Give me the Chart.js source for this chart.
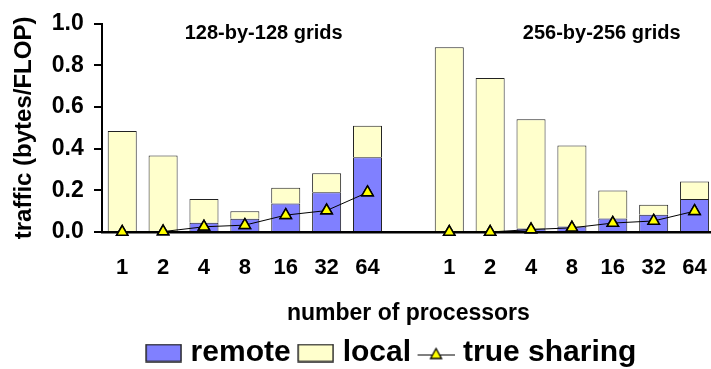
<!DOCTYPE html>
<html>
<head>
<meta charset="utf-8">
<script src="https://cdn.jsdelivr.net/npm/chart.js@4/dist/chart.umd.min.js"></script>
<style>
  html, body { margin: 0; padding: 0; background: #fff; }
  #wrap { width: 711px; height: 369px; position: relative; }
</style>
</head>
<body>
<div id="wrap"><canvas id="myChart"></canvas></div>
<script>
// processors per bar, the empty slot separates the two grid sizes
const processors = ['1', '2', '4', '8', '16', '32', '64', '', '1', '2', '4', '8', '16', '32', '64'];
const groupLabels = ['128-by-128 grids', '256-by-256 grids'];
// traffic in bytes/FLOP
const remote = [0, 0.003, 0.045, 0.064, 0.137, 0.191, 0.359, null, 0, 0, 0.017, 0.027, 0.065, 0.083, 0.158];
const local = [0.485, 0.365, 0.114, 0.036, 0.076, 0.091, 0.151, null, 0.887, 0.74, 0.525, 0.388, 0.134, 0.048, 0.084];
const trueSharing = [0, 0.002, 0.025, 0.033, 0.081, 0.103, 0.19, null, 0, 0, 0.012, 0.02, 0.043, 0.053, 0.1];
const yTicks = [0, 0.2, 0.4, 0.6, 0.8, 1.0];

const blue = '#8080ff';
const yellow = '#ffffcc';
const edge = '#222';

//legend keys: 48px wide pictures, the key itself sits in the right 36px
function boxKey(fill) {
    const c = document.createElement('canvas');
    c.width = 48; c.height = 19;
    const g = c.getContext('2d');
    g.fillStyle = fill;
    g.fillRect(12, 1, 35, 17);
    g.strokeStyle = edge;
    g.lineWidth = 1.5;
    g.strokeRect(12, 1, 35, 17);
    return c;
}
function lineKey() {
    const c = document.createElement('canvas');
    c.width = 48; c.height = 19;
    const g = c.getContext('2d');
    g.strokeStyle = '#000';
    g.lineWidth = 1;
    g.beginPath(); g.moveTo(11, 11.5); g.lineTo(48, 11.5); g.stroke();
    g.beginPath(); g.moveTo(29.5, 5); g.lineTo(35, 15); g.lineTo(24, 15); g.closePath();
    g.fillStyle = '#ffff00'; g.fill();
    g.lineWidth = 1.3; g.stroke();
    return c;
}

//axis lines, tick marks, group captions, small layout shifts
const chartDecor = {
    id: 'chartDecor',
    afterLayout(chart) {
        chart.legend.left += 28;
        chart.legend.right += 28;
        chart.legend.top += 9;
        chart.legend.bottom += 9;
        //the category axis runs a little past the right edge, as in the original
        const x = chart.scales.x;
        x.right = chart.width + 4;
        x.width = x.right - x.left;
        x.configure();
    },
    afterDraw(chart) {
        const x = chart.scales.x, y = chart.scales.y;
        const ctx = chart.ctx;
        const left = Math.round(chart.chartArea.left);
        const y0 = Math.round(y.getPixelForValue(0));
        const y1 = Math.round(y.getPixelForValue(1));
        ctx.save();
        ctx.fillStyle = '#000';
        //value axis with its tick marks
        ctx.fillRect(left - 1, y1 - 1, 2, y0 - y1 + 2);
        yTicks.forEach(v => {
            const py = Math.round(y.getPixelForValue(v));
            ctx.fillRect(left - 8, py - 1, 8, 2);
        });
        //category axis
        ctx.beginPath();
        ctx.strokeStyle = '#000';
        ctx.lineWidth = 2.5;
        ctx.moveTo(left - 1, y0 + 0.25);
        ctx.lineTo(x.right, y0 + 0.25);
        ctx.stroke();
        ctx.restore();
        //keep the true sharing markers on top of the axis
        chart.getDatasetMeta(0).data.forEach(pt => { if (!pt.skip) pt.draw(ctx, chart.chartArea); });

        ctx.save();
        ctx.font = 'bold 20px "Liberation Sans", Arial, sans-serif';
        ctx.fillStyle = '#000';
        ctx.textAlign = 'center';
        ctx.textBaseline = 'middle';
        ctx.fillText(groupLabels[0], x.getPixelForValue(3.46), y.getPixelForValue(0.955));
        ctx.fillText(groupLabels[1], x.getPixelForValue(11.73), y.getPixelForValue(0.955));
        ctx.restore();
    }
};

const chart = document.getElementById('myChart');
const font = '"Liberation Sans", Arial, sans-serif';

new Chart(chart, {
    type: 'bar',
    data: {
        labels: processors,
        datasets: [{
            type: 'line',
            label: 'true sharing',
            data: trueSharing,
            stack: 'ts',
            borderColor: '#000',
            borderWidth: 1,
            pointStyle: 'triangle',
            pointRadius: 6.5,
            pointBackgroundColor: '#ffff00',
            pointBorderColor: '#000',
            pointBorderWidth: 1.5,
            spanGaps: false,
            fill: false,
            clip: false,
            order: 0
        }, {
            label: 'remote',
            data: remote,
            stack: 'traffic',
            backgroundColor: blue,
            borderColor: edge,
            borderWidth: 1,
            order: 1
        }, {
            label: 'local',
            data: local,
            stack: 'traffic',
            backgroundColor: yellow,
            borderColor: edge,
            borderWidth: 1,
            order: 1
        }]
    },
    options: {
        responsive: true,
        maintainAspectRatio: false,
        animation: false,
        layout: { autoPadding: false, padding: { top: 23, right: 0, left: 10, bottom: 0 } },
        datasets: { bar: { categoryPercentage: 1, barPercentage: 0.71 } },
        scales: {
            x: {
                stacked: true,
                grid: { display: false, drawTicks: true, tickLength: 20 },
                border: { display: false },
                ticks: { color: '#000', font: { family: font, size: 22, weight: 'bold' }, padding: 3, maxRotation: 0, autoSkip: false },
                title: { display: true, text: 'number of processors', color: '#000', font: { family: font, size: 23, weight: 'bold' }, padding: { top: 15, bottom: 0 } }
            },
            y: {
                stacked: true,
                min: 0,
                max: 1,
                afterBuildTicks: (axis) => { axis.ticks = yTicks.map(v => ({ value: v })); },
                grid: { display: false, drawTicks: true, tickLength: 8 },
                border: { display: false },
                ticks: { color: '#000', font: { family: font, size: 23, weight: 'bold' }, padding: 10, callback: v => v.toFixed(1) },
                title: { display: true, text: 'traffic (bytes/FLOP)', color: '#000', font: { family: font, size: 24, weight: 'bold' }, padding: { top: 0, bottom: 3 } }
            }
        },
        plugins: {
            tooltip: { enabled: false },
            legend: {
                position: 'bottom',
                labels: {
                    usePointStyle: true,
                    pointStyleWidth: 35,
                    boxHeight: 19,
                    padding: 2,
                    color: '#000',
                    font: { family: font, size: 30, weight: 'bold' },
                    generateLabels: () => [
                        { text: 'remote', pointStyle: boxKey(blue), datasetIndex: 1 },
                        { text: 'local', pointStyle: boxKey(yellow), datasetIndex: 2 },
                        { text: 'true sharing', pointStyle: lineKey(), datasetIndex: 0 }
                    ]
                }
            }
        }
    },
    plugins: [chartDecor]
});
</script>
</body>
</html>
